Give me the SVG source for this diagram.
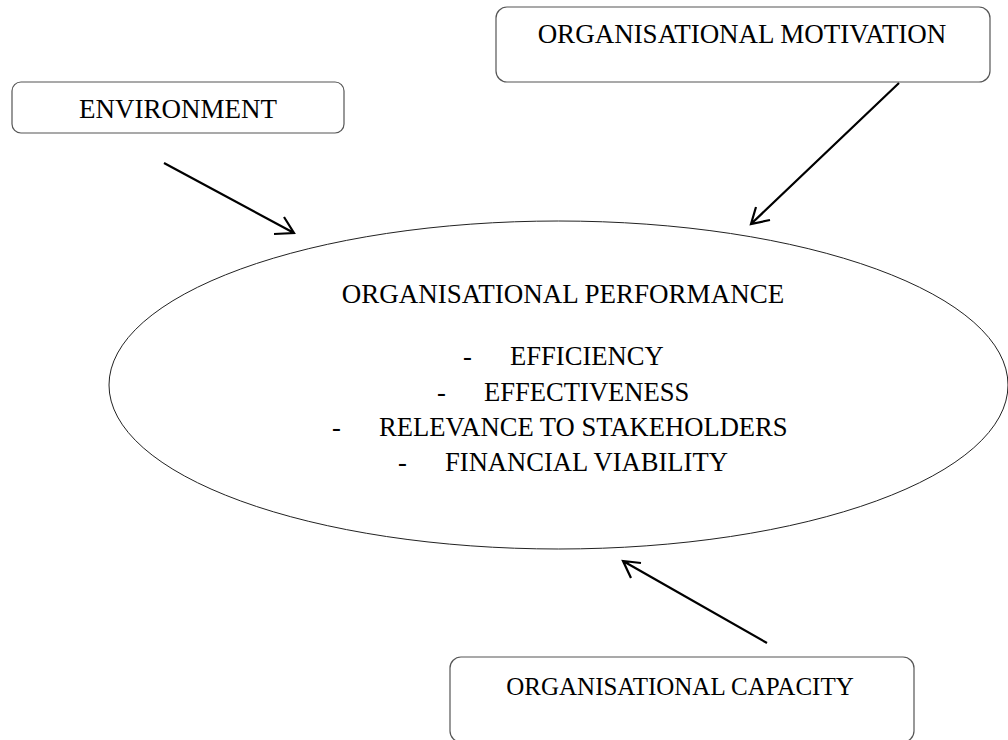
<svg xmlns="http://www.w3.org/2000/svg" width="1008" height="740" viewBox="0 0 1008 740">
<style>
.box{fill:#fff;stroke:#555;stroke-width:1.2}
.t{font-family:"Liberation Serif","Times New Roman",serif;font-size:27px;fill:#000}
.b{font-size:26.6px}
.c{text-anchor:middle}
.arr{fill:none;stroke:#000;stroke-width:2.2;stroke-linecap:butt}
</style>
<rect width="1008" height="740" fill="#fff"/>
<g id="environment">
<rect class="box" x="12" y="82" width="332" height="51" rx="9"/>
<text class="t c" x="178" y="118">ENVIRONMENT</text>
</g>
<g id="motivation">
<rect class="box" x="496" y="7" width="494" height="75" rx="11"/>
<text class="t c" x="742" y="43">ORGANISATIONAL MOTIVATION</text>
</g>
<g id="performance">
<ellipse cx="558.5" cy="385" rx="449.5" ry="164" fill="none" stroke="#222" stroke-width="1"/>
<text class="t c" x="563" y="303">ORGANISATIONAL PERFORMANCE</text>
<text class="t b" x="463" y="365">-</text>
<text class="t b" x="510" y="365">EFFICIENCY</text>
<text class="t b" x="437" y="401">-</text>
<text class="t b" x="484" y="401">EFFECTIVENESS</text>
<text class="t b" x="332" y="436">-</text>
<text class="t b" x="379" y="436">RELEVANCE TO STAKEHOLDERS</text>
<text class="t b" x="398" y="471">-</text>
<text class="t b" x="445" y="471">FINANCIAL VIABILITY</text>
</g>
<g id="capacity">
<rect class="box" x="450" y="657" width="464" height="85" rx="11"/>
<text class="t c" x="680" y="695" style="font-size:25px">ORGANISATIONAL CAPACITY</text>
</g>
<g id="connectors">
<path class="arr" d="M164 163 L294 233 M284 217 L294 233 L274 234"/>
<path class="arr" d="M899 83 L751 224 M756 207 L751 224 L770 220"/>
<path class="arr" d="M767 643 L623 561 M641 563 L623 561 L631 578"/>
</g>
</svg>
